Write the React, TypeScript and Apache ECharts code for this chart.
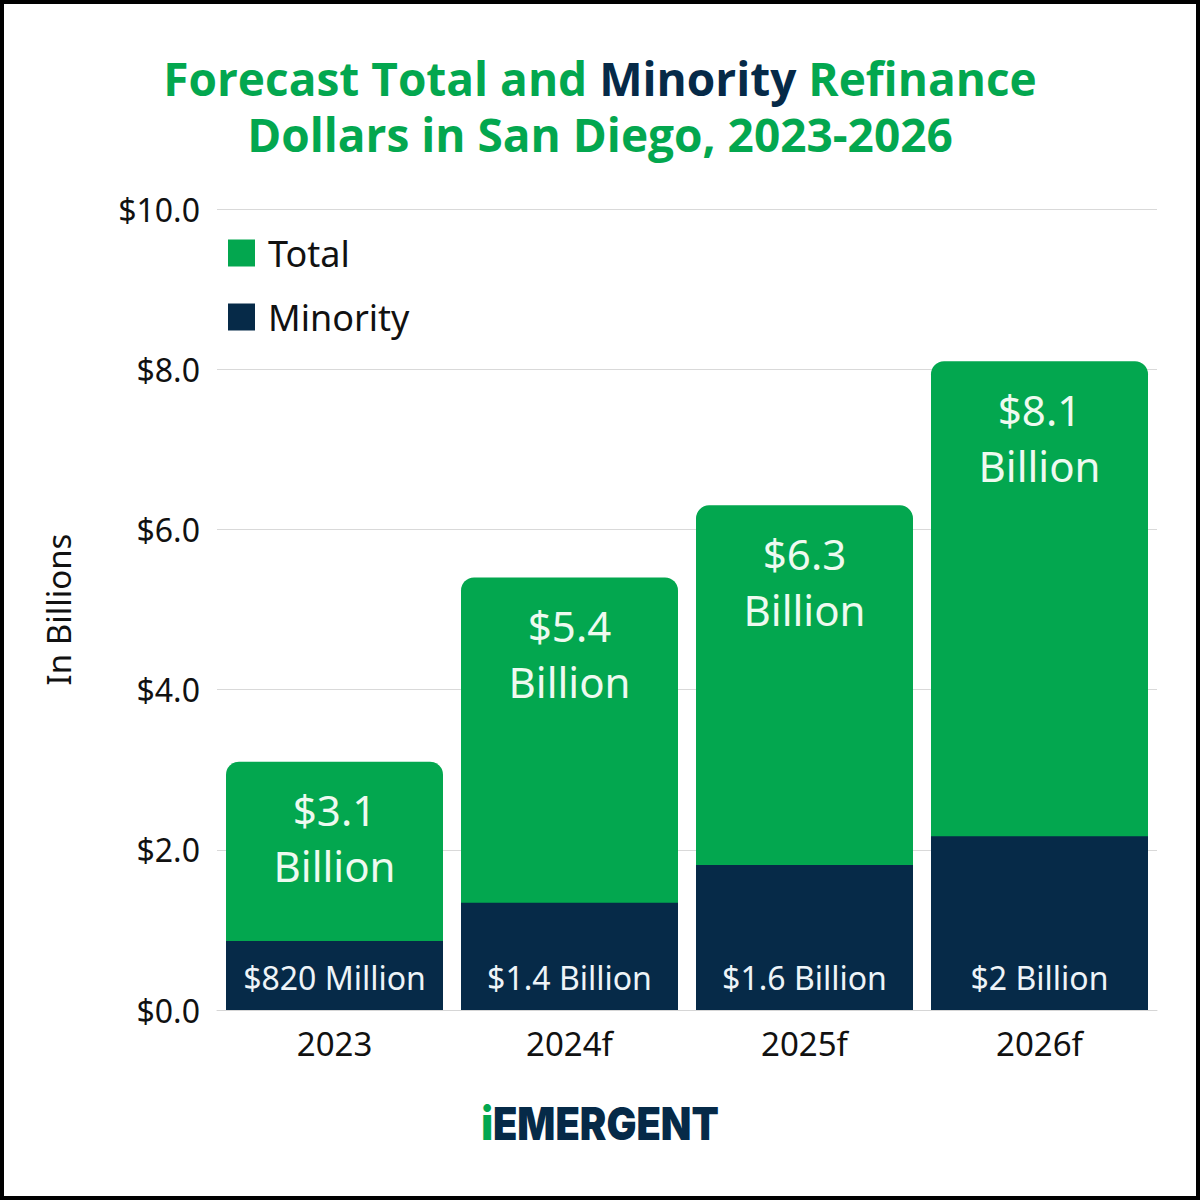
import React, { useEffect, useRef } from "react";
import * as echarts from "echarts";

const categories = ["2023", "2024f", "2025f", "2026f"];
const totalValues = [3.1, 5.4, 6.3, 8.1];
const minorityValues = [0.86, 1.34, 1.81, 2.17];
const totalLabels = ["$3.1\nBillion", "$5.4\nBillion", "$6.3\nBillion", "$8.1\nBillion"];
const minorityLabels = ["$820 Million", "$1.4 Billion", "$1.6 Billion", "$2 Billion"];
const seriesNames = ["Total", "Minority"];

const GREEN = "#03a74f";
const NAVY = "#062a48";
const LABEL_FONT = "'Noto Sans', 'Open Sans', sans-serif";

export default function App() {
  const ref = useRef<HTMLDivElement>(null);
  useEffect(() => {
    if (!ref.current) return;
    const chart = echarts.init(ref.current, undefined, { renderer: "svg" });
    chart.setOption({
      animation: false,
      backgroundColor: "#ffffff",
      title: {
        left: "center",
        top: 45,
        text: "{g|Forecast Total and }{n|Minority}{g| Refinance}\n{g|Dollars in San Diego, 2023-2026}",
        textStyle: {
          rich: {
            g: { color: GREEN, fontSize: 46, fontWeight: "bold", fontFamily: "'Open Sans', sans-serif", lineHeight: 56 },
            n: { color: NAVY, fontSize: 46, fontWeight: "bold", fontFamily: "'Open Sans', sans-serif", lineHeight: 56 },
          },
        },
      },
      legend: {
        orient: "vertical",
        left: 228,
        top: 235,
        padding: 0,
        itemWidth: 27,
        itemHeight: 27,
        itemGap: 28,
        icon: "rect",
        data: seriesNames,
        textStyle: { fontSize: 36, color: "#111", fontFamily: LABEL_FONT, padding: [0, 0, 0, 8] },
      },
      grid: { left: 217, right: 43, top: 209, bottom: 190, containLabel: false },
      xAxis: {
        type: "category",
        data: categories,
        axisTick: { show: false },
        axisLine: { show: true, lineStyle: { color: "#d6d6d6", width: 1 } },
        axisLabel: { fontSize: 33, color: "#111", fontFamily: LABEL_FONT, margin: 17 },
      },
      yAxis: {
        type: "value",
        min: 0,
        max: 10,
        interval: 2,
        name: "In Billions",
        nameLocation: "middle",
        nameGap: 142,
        nameTextStyle: { fontSize: 33, color: "#111", fontFamily: LABEL_FONT },
        axisLine: { show: false },
        axisTick: { show: false },
        splitLine: { lineStyle: { color: "#d9d9d9", width: 1 } },
        axisLabel: {
          fontSize: 32,
          color: "#111",
          fontFamily: LABEL_FONT,
          margin: 17,
          formatter: (v: number) => "$" + v.toFixed(1),
        },
      },
      series: [
        {
          name: seriesNames[0],
          type: "bar",
          data: totalValues,
          barWidth: 217,
          barGap: "-100%",
          itemStyle: { color: GREEN, borderRadius: [13, 13, 0, 0] },
          label: {
            show: true,
            position: "insideTop",
            distance: 20,
            fontSize: 42,
            lineHeight: 56,
            color: "#eefaf0",
            fontFamily: LABEL_FONT,
            formatter: (p: any) => totalLabels[p.dataIndex],
          },
          z: 2,
        },
        {
          name: seriesNames[1],
          type: "bar",
          data: minorityValues,
          barWidth: 217,
          barGap: "-100%",
          itemStyle: { color: NAVY },
          label: {
            show: true,
            position: "insideBottom",
            distance: 17,
            fontSize: 32,
            color: "#eef4f8",
            fontFamily: LABEL_FONT,
            formatter: (p: any) => minorityLabels[p.dataIndex],
          },
          z: 3,
        },
      ],
      graphic: [
        {
          type: "text",
          x: 600,
          y: 1124,
          scaleX: 0.885,
          style: {
            text: "{g|i}{n|EMERGENT}",
            align: "center",
            verticalAlign: "middle",
            rich: {
              g: { fill: GREEN, fontSize: 45, fontWeight: 900, fontFamily: "Inter, sans-serif" },
              n: { fill: NAVY, fontSize: 45, fontWeight: 900, fontFamily: "Inter, sans-serif" },
            },
          },
        },
      ],
    });
    return () => chart.dispose();
  }, []);
  return (
    <div style={{ position: "fixed", left: 0, top: 0, width: 1200, height: 1200, background: "#fff" }}>
      <div ref={ref} style={{ position: "absolute", left: 0, top: 0, width: 1200, height: 1200 }} />
      <div
        style={{
          position: "absolute",
          left: 0,
          top: 0,
          width: 1200,
          height: 1200,
          border: "4px solid #000",
          boxSizing: "border-box",
          pointerEvents: "none",
        }}
      />
    </div>
  );
}
